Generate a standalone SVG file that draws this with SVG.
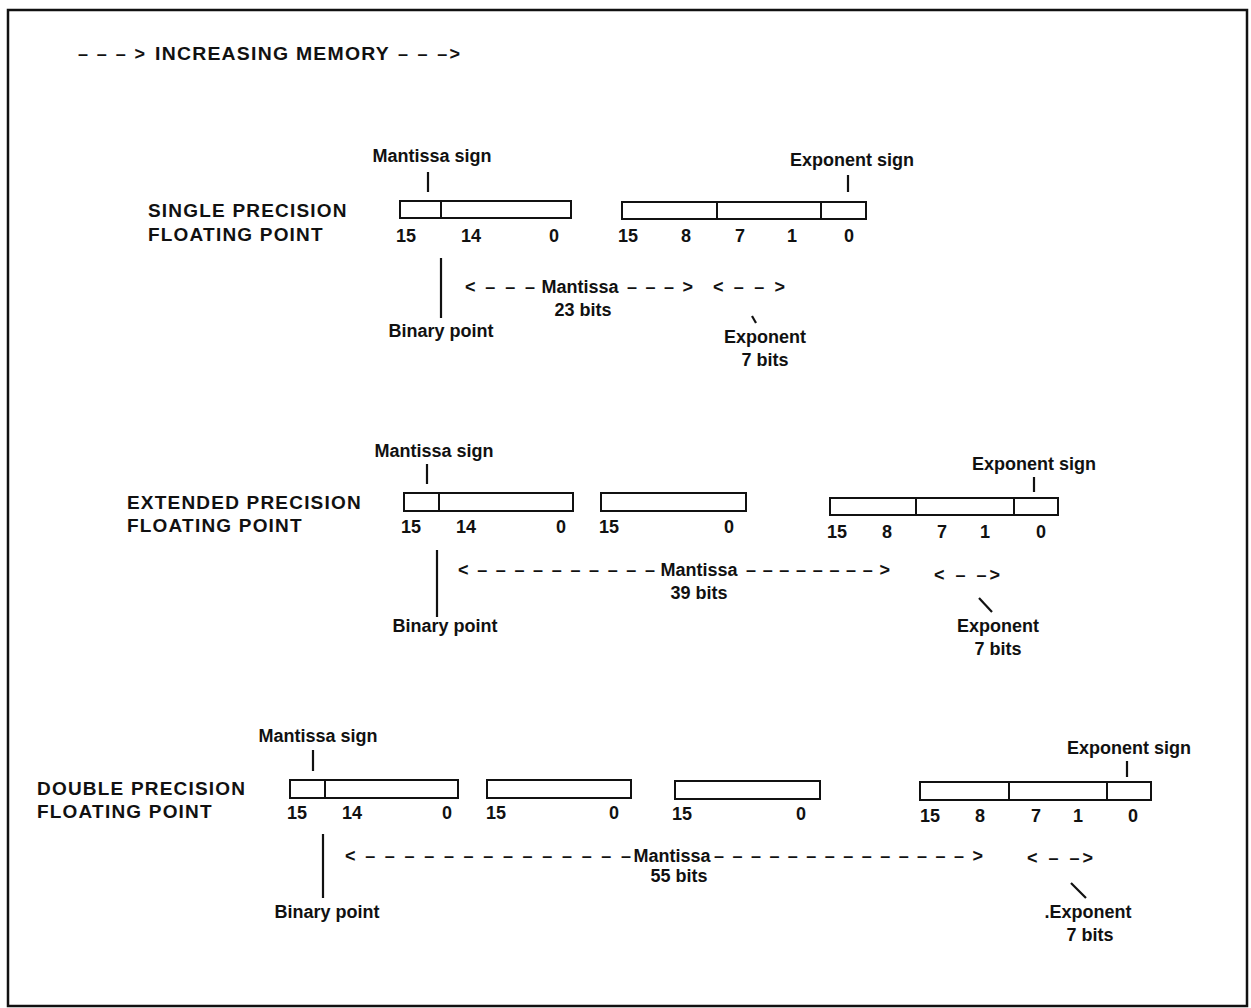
<svg xmlns="http://www.w3.org/2000/svg" width="1251" height="1008" viewBox="0 0 1251 1008">
<style>
text{font-family:"Liberation Sans",Arial,sans-serif;font-weight:bold;fill:#111;font-size:18px}
.h{font-size:19px;letter-spacing:1.2px}
.m{text-anchor:middle}
.box{fill:#fff;stroke:#111;stroke-width:2}
.ln{stroke:#111;stroke-width:2;fill:none}
.tk{stroke:#111;stroke-width:2.2;fill:none}
</style>
<rect x="8" y="10" width="1239" height="996" fill="#fff" stroke="#111" stroke-width="2.5"/>
<g id="title">
<text x="78" y="60" textLength="67" lengthAdjust="spacing">– – – &gt;</text>
<text x="155" y="60" class="h" textLength="235" lengthAdjust="spacingAndGlyphs">INCREASING MEMORY</text>
<text x="398" y="60" textLength="62" lengthAdjust="spacing">– – –&gt;</text>
</g>

<g id="single">
<text class="h" x="148" y="217">SINGLE PRECISION</text>
<text class="h" x="148" y="241">FLOATING POINT</text>
<rect class="box" x="400" y="201" width="171" height="17"/>
<line class="ln" x1="441" y1="201" x2="441" y2="218"/>
<text class="m" x="406" y="242">15</text><text class="m" x="471" y="242">14</text><text class="m" x="554" y="242">0</text>
<rect class="box" x="622" y="202" width="244" height="17"/>
<line class="ln" x1="717" y1="202" x2="717" y2="219"/><line class="ln" x1="821" y1="202" x2="821" y2="219"/>
<text class="m" x="628" y="242">15</text><text class="m" x="686" y="242">8</text><text class="m" x="740" y="242">7</text><text class="m" x="792" y="242">1</text><text class="m" x="849" y="242">0</text>
<text class="m" x="432" y="162">Mantissa sign</text>
<text class="m" x="852" y="166">Exponent sign</text>
<text class="m" x="441" y="337">Binary point</text>
<text x="465" y="293" textLength="70" lengthAdjust="spacing">&lt; – – –</text>
<text class="m" x="580" y="293">Mantissa</text>
<text x="627" y="293" textLength="66" lengthAdjust="spacing">– – – &gt;</text>
<text class="m" x="583" y="316">23 bits</text>
<text x="713" y="293" textLength="72" lengthAdjust="spacing">&lt; – – &gt;</text>
<text class="m" x="765" y="343">Exponent</text>
<text class="m" x="765" y="366">7 bits</text>
</g>

<g id="extended">
<text class="h" x="127" y="509">EXTENDED PRECISION</text>
<text class="h" x="127" y="532">FLOATING POINT</text>
<rect class="box" x="404" y="493" width="169" height="18"/>
<line class="ln" x1="439" y1="493" x2="439" y2="511"/>
<text class="m" x="411" y="533">15</text><text class="m" x="466" y="533">14</text><text class="m" x="561" y="533">0</text>
<rect class="box" x="601" y="493" width="145" height="18"/>
<text class="m" x="609" y="533">15</text><text class="m" x="729" y="533">0</text>
<rect class="box" x="830" y="498" width="228" height="17"/>
<line class="ln" x1="916" y1="498" x2="916" y2="515"/><line class="ln" x1="1014" y1="498" x2="1014" y2="515"/>
<text class="m" x="837" y="538">15</text><text class="m" x="887" y="538">8</text><text class="m" x="942" y="538">7</text><text class="m" x="985" y="538">1</text><text class="m" x="1041" y="538">0</text>
<text class="m" x="434" y="457">Mantissa sign</text>
<text class="m" x="1034" y="470">Exponent sign</text>
<text class="m" x="445" y="632">Binary point</text>
<text x="458" y="576" textLength="197" lengthAdjust="spacing">&lt; – – – – – – – – – –</text>
<text class="m" x="699" y="576">Mantissa</text>
<text x="746" y="576" textLength="144" lengthAdjust="spacing">– – – – – – – – &gt;</text>
<text class="m" x="699" y="599">39 bits</text>
<text x="934" y="581" textLength="66" lengthAdjust="spacing">&lt; – –&gt;</text>
<text class="m" x="998" y="632">Exponent</text>
<text class="m" x="998" y="655">7 bits</text>
</g>

<g id="double">
<text class="h" x="37" y="795">DOUBLE PRECISION</text>
<text class="h" x="37" y="818">FLOATING POINT</text>
<rect class="box" x="290" y="780" width="168" height="18"/>
<line class="ln" x1="325" y1="780" x2="325" y2="798"/>
<text class="m" x="297" y="819">15</text><text class="m" x="352" y="819">14</text><text class="m" x="447" y="819">0</text>
<rect class="box" x="487" y="780" width="144" height="18"/>
<text class="m" x="496" y="819">15</text><text class="m" x="614" y="819">0</text>
<rect class="box" x="675" y="781" width="145" height="18"/>
<text class="m" x="682" y="820">15</text><text class="m" x="801" y="820">0</text>
<rect class="box" x="920" y="782" width="231" height="18"/>
<line class="ln" x1="1009" y1="782" x2="1009" y2="800"/><line class="ln" x1="1107" y1="782" x2="1107" y2="800"/>
<text class="m" x="930" y="822">15</text><text class="m" x="980" y="822">8</text><text class="m" x="1036" y="822">7</text><text class="m" x="1078" y="822">1</text><text class="m" x="1133" y="822">0</text>
<text class="m" x="318" y="742">Mantissa sign</text>
<text class="m" x="1129" y="754">Exponent sign</text>
<text class="m" x="327" y="918">Binary point</text>
<text x="345" y="862" textLength="286" lengthAdjust="spacing">&lt; – – – – – – – – – – – – – –</text>
<text class="m" x="672" y="862">Mantissa</text>
<text x="714" y="862" textLength="269" lengthAdjust="spacing">– – – – – – – – – – – – – – &gt;</text>
<text class="m" x="679" y="882">55 bits</text>
<text x="1027" y="864" textLength="66" lengthAdjust="spacing">&lt; – –&gt;</text>
<text class="m" x="1088" y="918">.Exponent</text>
<text class="m" x="1090" y="941">7 bits</text>
</g>

<g id="connectors">
<line class="tk" x1="428" y1="172" x2="428" y2="192"/>
<line class="tk" x1="848" y1="175" x2="848" y2="192"/>
<line class="tk" x1="441" y1="258" x2="441" y2="318"/>
<line class="tk" x1="752" y1="316" x2="756" y2="323"/>
<line class="tk" x1="427" y1="464" x2="427" y2="484"/>
<line class="tk" x1="1034" y1="477" x2="1034" y2="492"/>
<line class="tk" x1="437" y1="550" x2="437" y2="617"/>
<line class="tk" x1="979" y1="598" x2="992" y2="612"/>
<line class="tk" x1="313" y1="750" x2="313" y2="771"/>
<line class="tk" x1="1127" y1="761" x2="1127" y2="777"/>
<line class="tk" x1="323" y1="834" x2="323" y2="898"/>
<line class="tk" x1="1071" y1="883" x2="1086" y2="898"/>
</g>
</svg>
